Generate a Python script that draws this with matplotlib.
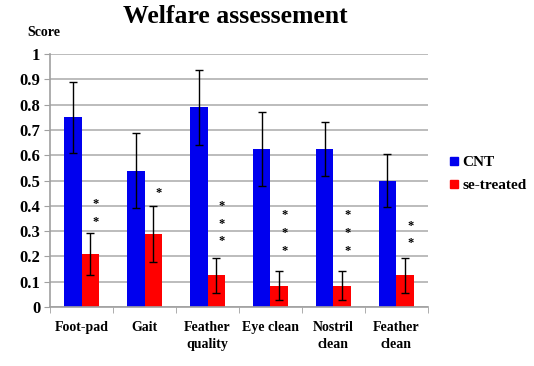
import numpy as np
import matplotlib.pyplot as plt
from matplotlib.lines import Line2D

categories = ['Foot-pad', 'Gait', 'Feather\nquality', 'Eye clean', 'Nostril\nclean', 'Feather\nclean']
cnt = [0.75, 0.54, 0.79, 0.625, 0.625, 0.50]
cnt_err = [0.14, 0.147, 0.148, 0.145, 0.105, 0.105]
se = [0.21, 0.29, 0.125, 0.085, 0.085, 0.125]
se_err = [0.083, 0.11, 0.07, 0.057, 0.057, 0.07]
star_y = [[0.407, 0.336], [0.45], [0.40, 0.33, 0.26], [0.364, 0.292, 0.221],
          [0.364, 0.292, 0.221], [0.32, 0.253]]

plt.rcParams['font.family'] = ['Liberation Serif', 'DejaVu Serif']
plt.rcParams['font.weight'] = 'bold'

fig = plt.figure(figsize=(5.34, 3.66), dpi=100)
ax = fig.add_axes([0.094, 0.161, 0.707, 0.691])

x = np.arange(len(categories))
w = 0.28
ax.bar(x - w / 2, cnt, w, color='#0000ee', zorder=2)
ax.bar(x + w / 2, se, w, color='#ff0000', zorder=2)
ax.errorbar(x - w / 2, cnt, yerr=cnt_err, fmt='none', ecolor='black',
            elinewidth=1, capsize=3, capthick=1, zorder=3)
ax.errorbar(x + w / 2, se, yerr=se_err, fmt='none', ecolor='black',
            elinewidth=1, capsize=3, capthick=1, zorder=3)

# significance stars above the se-treated bars
for i, ys in enumerate(star_y):
    for yy in ys:
        ax.text(x[i] + w / 2 + 0.08, yy, '*', ha='center', va='center', fontsize=9)

ax.set_xlim(-0.5, len(categories) - 0.5)
ax.set_ylim(0, 1)
ax.set_yticks(np.arange(0, 1.01, 0.1))
ax.set_yticklabels(['0', '0.1', '0.2', '0.3', '0.4', '0.5', '0.6', '0.7', '0.8', '0.9', '1'],
                   fontsize=12, fontweight='bold')
ax.set_xticks(x)
ax.set_xticklabels(categories, fontsize=10, fontweight='bold', linespacing=1.4)
ax.set_xticks(np.arange(-0.5, len(categories), 1), minor=True)
ax.tick_params(axis='x', which='major', length=0, pad=10)
ax.tick_params(axis='x', which='minor', length=4, color='#a0a0a0')
ax.tick_params(axis='y', length=4, color='#a0a0a0', pad=3)
ax.yaxis.grid(True, color='#b0b0b0', linewidth=1.2, zorder=0)
ax.set_axisbelow(True)
for s in ['top', 'right']:
    ax.spines[s].set_visible(False)
for s in ['left', 'bottom']:
    ax.spines[s].set_color('#a0a0a0')
    ax.spines[s].set_linewidth(1.2)

fig.text(0.44, 0.955, 'Welfare assessement', ha='center', va='center',
         fontsize=18.5, fontweight='bold')
fig.text(0.052, 0.91, 'Score', ha='left', va='center', fontsize=10, fontweight='bold')

handles = [Line2D([], [], marker='s', color='#0000ee', linestyle='none', markersize=6),
           Line2D([], [], marker='s', color='#ff0000', linestyle='none', markersize=6)]
fig.legend(handles, ['CNT', 'se-treated'], loc='center left', bbox_to_anchor=(0.815, 0.525),
           frameon=False, handlelength=0.6, handletextpad=0.3, labelspacing=0.6,
           prop={'weight': 'bold', 'size': 11})

fig.savefig('out.png', dpi=100)
